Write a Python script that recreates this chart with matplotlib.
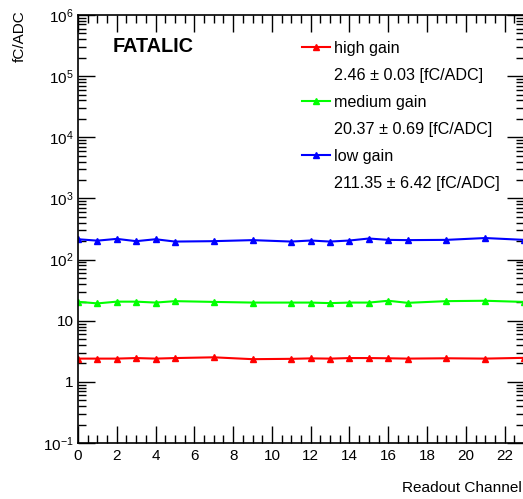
import matplotlib
matplotlib.use("Agg")
import matplotlib.pyplot as plt
from matplotlib.lines import Line2D
from matplotlib.ticker import MultipleLocator, FixedLocator, FixedFormatter, LogLocator, NullFormatter

plt.rcParams['font.family'] = ['Liberation Sans', 'DejaVu Sans']
plt.rcParams['mathtext.fontset'] = 'custom'
plt.rcParams['mathtext.rm'] = 'Liberation Sans'
plt.rcParams['mathtext.it'] = 'Liberation Sans:italic'
plt.rcParams['mathtext.bf'] = 'Liberation Sans:bold'

channels = [0, 1, 2, 3, 4, 5, 7, 9, 11, 12, 13, 14, 15, 16, 17, 19, 21, 23]
high_gain = [2.40, 2.40, 2.40, 2.45, 2.40, 2.45, 2.52, 2.35, 2.38, 2.42, 2.40, 2.45, 2.45, 2.43, 2.40, 2.43, 2.40, 2.47]
medium_gain = [20.4, 19.2, 20.5, 20.5, 19.8, 20.9, 20.3, 19.8, 19.8, 19.8, 19.4, 19.8, 19.8, 21.2, 19.6, 20.9, 21.2, 20.3]
low_gain = [215, 204, 218, 200, 215, 197, 200, 208, 197, 205, 197, 205, 221, 210, 208, 210, 225, 210]

series_names = ["high gain", "medium gain", "low gain"]
series_notes = ["2.46 \u00b1 0.03 [fC/ADC]", "20.37 \u00b1 0.69 [fC/ADC]", "211.35 \u00b1 6.42 [fC/ADC]"]
colors = ["#ff0000", "#00ff00", "#0000ff"]

ytick_vals = [0.1, 1, 10, 100, 1e3, 1e4, 1e5, 1e6]
ytick_labels = ["$10^{-1}$", "1", "10", "$10^{2}$", "$10^{3}$", "$10^{4}$", "$10^{5}$", "$10^{6}$"]

fig = plt.figure(figsize=(5.23, 4.99), dpi=100)
ax = fig.add_axes([78/523, 1 - 443/499, 446/523, (443 - 15)/499])

handles = []
for vals, c in zip([high_gain, medium_gain, low_gain], colors):
    ln, = ax.plot(channels, vals, color=c, lw=1.5, marker='^', ms=5, mec=c, mfc=c)
    handles.append(ln)

ax.set_yscale('log')
ax.set_xlim(0, 23)
ax.set_ylim(0.1, 1e6)

ax.xaxis.set_major_locator(MultipleLocator(2))
ax.xaxis.set_minor_locator(MultipleLocator(0.5))
ax.yaxis.set_major_locator(FixedLocator(ytick_vals))
ax.yaxis.set_major_formatter(FixedFormatter(ytick_labels))
ax.yaxis.set_minor_locator(LogLocator(base=10, subs=range(2, 10), numticks=20))
ax.yaxis.set_minor_formatter(NullFormatter())

ax.tick_params(which='both', direction='in', top=True, right=True, labelsize=11, width=1, color='black')
ax.tick_params(which='major', length=12, pad=4)
ax.tick_params(axis='y', which='major', pad=3)
ax.tick_params(which='minor', length=6)
for s in ax.spines.values():
    s.set_linewidth(1.2)

fig.text(522/523, 1 - 488/499, "Readout Channel", ha='right', va='center', fontsize=11.1)
fig.text(20/523, 1 - 10/499, "fC/ADC", ha='center', va='top', rotation=90, fontsize=11)

fig.text(113/523, 1 - 47/499, "FATALIC", ha='left', va='center', fontsize=14.3, fontweight='bold')

blank = Line2D([], [], lw=0, marker=None, alpha=0)
leg_handles = []
leg_labels = []
for h, n, note in zip(handles, series_names, series_notes):
    leg_handles += [h, blank]
    leg_labels += [n, note]
leg = ax.legend(leg_handles, leg_labels, loc='upper left', bbox_to_anchor=((302 - 78)/446, 1 - (41 - 15)/428),
                frameon=False, fontsize=11.6, handlelength=1.75, handletextpad=0.25, labelspacing=0.74,
                borderaxespad=0, borderpad=0, markerscale=0.9)

fig.savefig("out.png", dpi=100)
